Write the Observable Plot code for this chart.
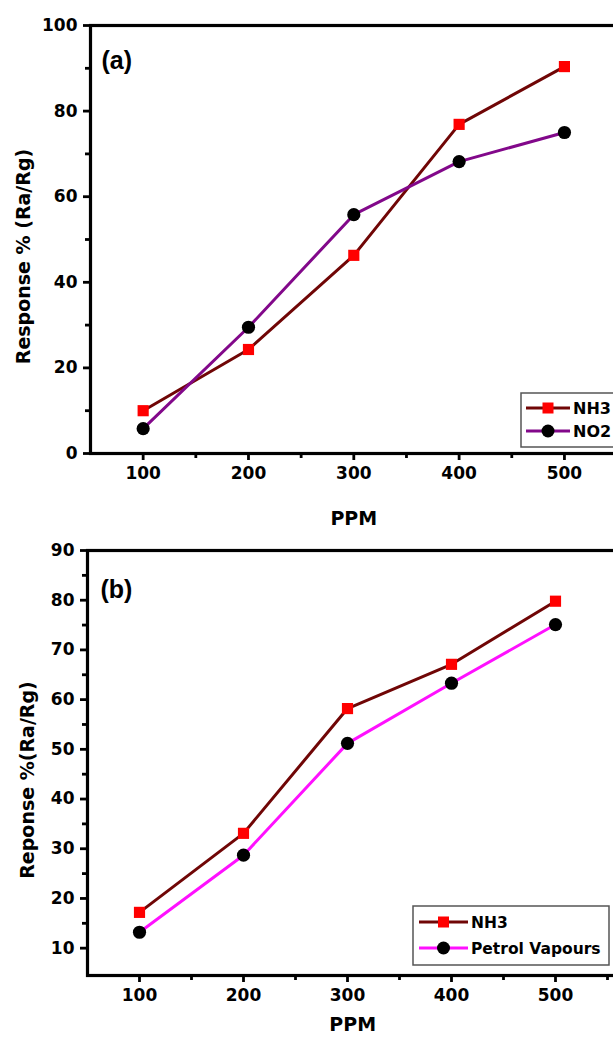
<!DOCTYPE html>
<html>
<head>
<meta charset="utf-8">
<script src="https://cdn.jsdelivr.net/npm/d3@7"></script>
<script src="https://cdn.jsdelivr.net/npm/@observablehq/plot@0.6"></script>
<style>
html, body { margin: 0; padding: 0; background: #fff; overflow: hidden; }
#wrap { position: relative; width: 613px; height: 1040px; overflow: hidden; background: #fff; }
.panel { position: absolute; left: 0; width: 620px; }
.panel svg { max-width: none !important; }
</style>
</head>
<body>
<div id="wrap">
  <div class="panel" id="pa" style="top:0px"></div>
  <div class="panel" id="pb" style="top:540px"></div>
</div>
<script>
// ---- data ----
const ppm = [100, 200, 300, 400, 500];
const xTickLabels = ["100", "200", "300", "400", "500"];
// panel (a)
const nh3A = [10.0, 24.3, 46.3, 76.9, 90.4];
const no2A = [5.8, 29.5, 55.8, 68.2, 75.0];
// panel (b)
const nh3B = [17.2, 33.1, 58.2, 67.1, 79.8];
const petrolB = [13.2, 28.7, 51.2, 63.3, 75.1];
const yTicksA = [0, 20, 40, 60, 80, 100];
const yTicksB = [10, 20, 30, 40, 50, 60, 70, 80, 90];

const FONT = "DejaVu Sans";
const C_NH3 = "#700606";
const C_NO2 = "#82088a";
const C_PET = "#ff10ff";

function rows(vals) { return ppm.map((p, i) => ({ppm: p, v: vals[i]})); }

function panel(o) {
  const svg = Plot.plot({
    width: 620,
    height: o.height,
    marginLeft: o.marginLeft,
    marginRight: o.marginRight,
    marginTop: o.marginTop,
    marginBottom: o.marginBottom,
    x: {domain: o.xDomain},
    y: {domain: o.yDomain},
    style: {fontFamily: FONT, fontWeight: "bold", fontSize: "17px", color: "#000", background: "transparent", overflow: "visible", maxWidth: "none"},
    marks: [
      Plot.axisX({ticks: ppm, tickFormat: (d) => xTickLabels[ppm.indexOf(d)], tickSize: 7, tickPadding: 6, strokeWidth: 2.8, label: null, fontSize: 17}),
      Plot.axisX({ticks: o.xMinor, tickFormat: () => "", tickSize: 5, strokeWidth: 2.8, label: null}),
      Plot.axisY({ticks: o.yTicks, tickFormat: d => String(d), tickSize: 7, tickPadding: 6, strokeWidth: 2.8, label: null, fontSize: 17}),
      Plot.axisY({ticks: o.yMinor, tickFormat: () => "", tickSize: 5, strokeWidth: 2.8, label: null}),
      Plot.frame({stroke: "#000", strokeWidth: 3.2}),
      Plot.line(rows(o.nh3), {x: "ppm", y: "v", stroke: C_NH3, strokeWidth: 3}),
      Plot.line(rows(o.other), {x: "ppm", y: "v", stroke: o.otherColor, strokeWidth: 3}),
      Plot.dot(rows(o.nh3), {x: "ppm", y: "v", symbol: "square", r: 6.3, fill: "#ff0000", stroke: "none"}),
      Plot.dot(rows(o.other), {x: "ppm", y: "v", symbol: "circle", r: 6.6, fill: "#000", stroke: "none"}),
      Plot.text([o.tag], {frameAnchor: "top-left", textAnchor: "start", dx: o.tagDx, dy: o.tagDy, fontSize: 25, fontFamily: "Liberation Sans", fontWeight: "bold"}),
      Plot.text([o.yLabel], {frameAnchor: "left", textAnchor: "middle", rotate: -90, dx: o.yLabelDx, dy: o.yLabelDy, fontSize: 19}),
      Plot.text(["PPM"], {frameAnchor: "bottom", textAnchor: "middle", dy: o.xLabelDy, fontSize: 19})
    ]
  });
  svg.style.maxWidth = "none";
  // legend (layout overlay)
  const g = d3.select(svg).append("g").attr("font-family", FONT).attr("font-weight", "bold").attr("text-anchor", "start");
  const L = o.legend;
  g.append("rect").attr("x", L.x).attr("y", L.y).attr("width", L.w).attr("height", L.h)
    .attr("fill", "#fff").attr("stroke", "#555").attr("stroke-width", 1.5);
  const items = [
    {name: "NH3", color: C_NH3, sym: "square"},
    {name: o.otherName, color: o.otherColor, sym: "circle"}
  ];
  items.forEach((it, i) => {
    const yy = L.rows[i];
    g.append("line").attr("x1", L.lx1).attr("x2", L.lx2).attr("y1", yy).attr("y2", yy)
      .attr("stroke", it.color).attr("stroke-width", 3);
    const mx = (L.lx1 + L.lx2) / 2;
    if (it.sym === "square") {
      g.append("rect").attr("x", mx - 5.5).attr("y", yy - 5.5).attr("width", 11).attr("height", 11).attr("fill", "#ff0000");
    } else {
      g.append("circle").attr("cx", mx).attr("cy", yy).attr("r", 6.5).attr("fill", "#000");
    }
    g.append("text").attr("x", L.tx).attr("y", yy).attr("dy", "0.36em").attr("text-anchor", "start")
      .attr("font-size", L.fs).attr("fill", "#000").text(it.name);
  });
  return svg;
}

document.getElementById("pa").appendChild(panel({
  height: 540, marginLeft: 90, marginRight: 620 - 616.6, marginTop: 25, marginBottom: 87,
  xDomain: [50, 550], yDomain: [0, 100],
  xMinor: [150, 250, 350, 450], yTicks: yTicksA, yMinor: [10, 30, 50, 70, 90],
  nh3: nh3A, other: no2A, otherColor: C_NO2, otherName: "NO2",
  tag: "(a)", tagDx: 11, tagDy: 26,
  yLabel: "Response % (Ra/Rg)", yLabelDx: -67, yLabelDy: 17,
  xLabelDy: 71,
  legend: {x: 521, y: 393, w: 120, h: 54, rows: [408, 431], lx1: 526, lx2: 570, tx: 573, fs: 16}
}));

document.getElementById("pb").appendChild(panel({
  height: 500, marginLeft: 87, marginRight: 2.6, marginTop: 10, marginBottom: 65,
  xDomain: [50, 560], yDomain: [4.5, 90],
  xMinor: [150, 250, 350, 450, 550], yTicks: yTicksB, yMinor: [15, 25, 35, 45, 55, 65, 75, 85],
  nh3: nh3B, other: petrolB, otherColor: C_PET, otherName: "Petrol Vapours",
  tag: "(b)", tagDx: 13, tagDy: 30,
  yLabel: "Reponse %(Ra/Rg)", yLabelDx: -60, yLabelDy: 17,
  xLabelDy: 55,
  legend: {x: 413, y: 366, w: 196, h: 59, rows: [382, 408], lx1: 419, lx2: 468, tx: 471, fs: 15.5}
}));
</script>
</body>
</html>
